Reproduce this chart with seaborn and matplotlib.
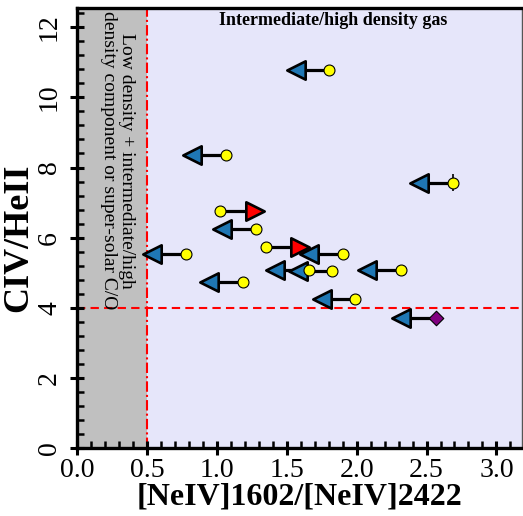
import matplotlib
matplotlib.use("Agg")
import matplotlib.pyplot as plt
from matplotlib.ticker import MultipleLocator, FixedLocator
import numpy as np
import pandas as pd
import seaborn as sns

# Measured ratios: NeIV density diagnostic vs CIV/HeII
neiv_ratio = [1.803, 1.063, 1.024, 1.278, 0.777, 1.189, 1.350,
              1.901, 1.658, 1.822, 1.991, 2.689, 2.317, 2.570]
civ_heii = [10.77, 8.35, 6.75, 6.24, 5.53, 4.74, 5.73,
            5.53, 5.07, 5.05, 4.24, 7.57, 5.07, 3.70]
# End point of each limit arrow on the NeIV ratio axis
neiv_limit = [1.562, 0.822, 1.273, 1.034, 0.533, 0.946, 1.595,
              1.662, 1.416, 1.583, 1.751, 2.443, 2.073, 2.317]
# 'upper' = arrow to lower ratios, 'lower' = arrow to higher ratios
limit_kind = ["upper", "upper", "lower", "upper", "upper", "upper", "lower",
              "upper", "upper", "upper", "upper", "upper", "upper", "upper"]
source_kind = ["circle"] * 13 + ["diamond"]
civ_err = [0, 0, 0, 0, 0, 0, 0, 0, 0, 0, 0, 0.24, 0, 0]

x_ticks = [0.0, 0.5, 1.0, 1.5, 2.0, 2.5, 3.0]
y_ticks = [0, 2, 4, 6, 8, 10, 12]
low_density_edge = 0.5
civ_threshold = 4.0

df = pd.DataFrame({
    "ratio": neiv_ratio, "civ": civ_heii, "limit": neiv_limit,
    "kind": limit_kind, "src": source_kind, "err": civ_err,
})

sns.set_theme(style="ticks")
plt.rcParams["font.family"] = ["serif"]
plt.rcParams["font.serif"] = ["Liberation Serif", "DejaVu Serif"]
for key in ["text.color", "axes.labelcolor", "xtick.color", "ytick.color",
            "xtick.labelcolor", "ytick.labelcolor", "axes.edgecolor"]:
    plt.rcParams[key] = "black"
plt.rcParams["axes.axisbelow"] = False

fig = plt.figure(figsize=(5.23, 5.16), dpi=100)
ax = fig.add_axes([0.1478, 0.1318, 0.8502, 0.8527])

# Background regions
ax.set_facecolor("lavender")
ax.axvspan(0, low_density_edge, color="silver", zorder=0, lw=0)
ax.axvline(low_density_edge, color="red", ls=(0, (5, 1.5, 1, 1.5)), lw=1.5, zorder=1)
ax.axhline(civ_threshold, color="red", ls=(0, (4, 2.5)), lw=1.5, zorder=1)

# Error bars
eb = df[df["err"] > 0]
ax.errorbar(eb["ratio"], eb["civ"], yerr=eb["err"], fmt="none",
            ecolor="black", elinewidth=1.2, capsize=0, zorder=2)

# Limit arrows
ax.hlines(df["civ"], df["ratio"], df["limit"], color="black", lw=2.3, zorder=3)

lower = df[df["kind"] == "lower"]
upper = df[df["kind"] == "upper"]
sns.scatterplot(data=lower, x="limit", y="civ", marker=">", s=175,
                color="red", edgecolor="black", linewidth=1.9, zorder=4, ax=ax)
sns.scatterplot(data=upper, x="limit", y="civ", marker="<", s=175,
                color="#1f77b4", edgecolor="black", linewidth=1.9, zorder=4, ax=ax)

circ = df[df["src"] == "circle"]
diam = df[df["src"] == "diamond"]
sns.scatterplot(data=circ, x="ratio", y="civ", marker="o", s=62,
                color="yellow", edgecolor="black", linewidth=0.8, zorder=5, ax=ax)
sns.scatterplot(data=diam, x="ratio", y="civ", marker="D", s=55,
                color="purple", edgecolor="black", linewidth=0.8, zorder=5, ax=ax)

# Annotations
ax.text(1.83, 12.2, "Intermediate/high density gas", ha="center", va="center",
        fontsize=13, fontweight="bold", color="black")
ax.text(0.29, 8.2, "Low density + intermediate/high\ndensity component or super-solar C/O",
        rotation=-90, ha="center", va="center", multialignment="center",
        fontsize=14, linespacing=1.05, color="black")

ax.set_xlim(0, 3.183)
ax.set_ylim(0, 12.55)

# Axes styling
ax.xaxis.set_major_locator(FixedLocator(x_ticks))
ax.yaxis.set_major_locator(FixedLocator(y_ticks))
ax.set_xticklabels([f"{v:.1f}" for v in x_ticks])
ax.set_yticklabels([str(v) for v in y_ticks], rotation=90, va="center")
ax.xaxis.set_minor_locator(MultipleLocator(0.1))
ax.yaxis.set_minor_locator(MultipleLocator(0.4))
ax.tick_params(which="major", direction="inout", length=10, width=2.2,
               labelsize=20, color="black", labelcolor="black")
ax.tick_params(axis="x", which="major", pad=2)
ax.tick_params(axis="y", which="major", pad=6)
ax.tick_params(which="minor", direction="in", length=5, width=1.8, color="black")
ax.tick_params(top=False, right=False, which="both")

for side in ["left", "bottom", "top"]:
    ax.spines[side].set_linewidth(2.4)
    ax.spines[side].set_color("black")
ax.spines["right"].set_linewidth(1.0)
ax.spines["right"].set_color("#555555")

ax.set_xlabel("[NeIV]1602/[NeIV]2422", fontsize=23, fontweight="bold",
              labelpad=0, color="black")
ax.set_ylabel("CIV/HeII", fontsize=26, fontweight="bold", color="black")
ax.yaxis.set_label_coords(-0.095, 0.477)

fig.savefig("out.png", dpi=100)
